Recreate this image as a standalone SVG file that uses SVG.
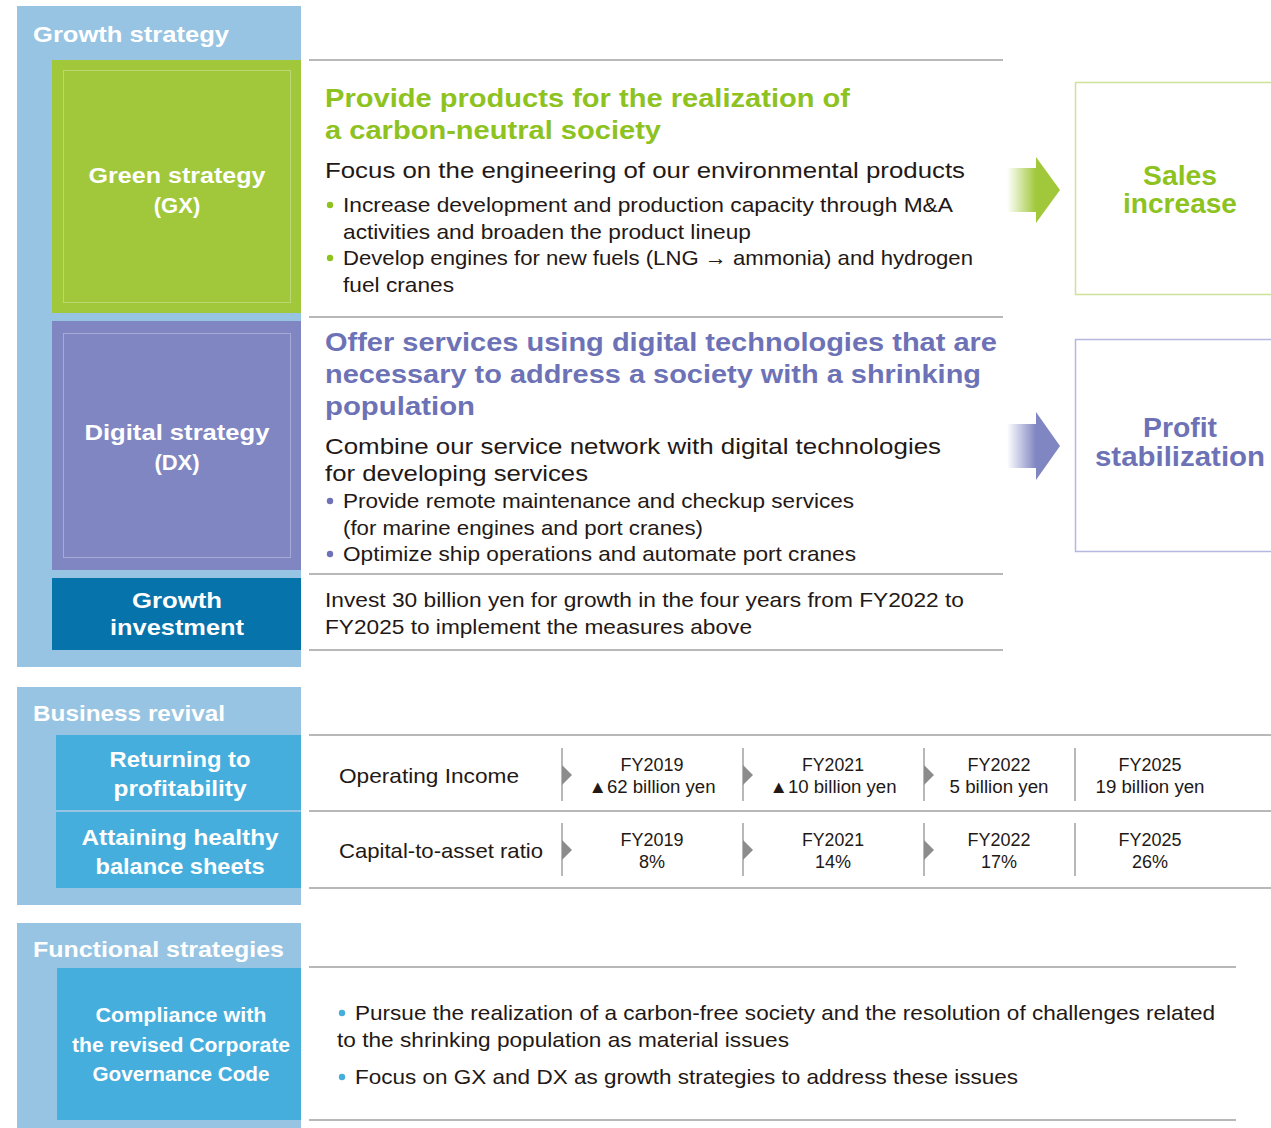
<svg xmlns="http://www.w3.org/2000/svg" width="1271" height="1128" viewBox="0 0 1271 1128">
<defs>
<style>
.lbl{font-family:"Liberation Sans",Arial,sans-serif;font-weight:bold;fill:#fff;}
.hd{font-family:"Liberation Sans",Arial,sans-serif;font-weight:bold;}
.tx{font-family:"Liberation Sans",Arial,sans-serif;fill:#231815;}
.sep{stroke:#a0a0a0;stroke-width:1.5;fill:none;}
.vdiv{stroke:#a0a0a0;stroke-width:1.5;}
.tri{fill:#8c8c8c;}
.inner{fill:none;stroke:#ffffff;stroke-opacity:0.3;stroke-width:1;}
</style>
<linearGradient id="gG" x1="1007" y1="0" x2="1036" y2="0" gradientUnits="userSpaceOnUse">
<stop offset="0" stop-color="#a0c83a" stop-opacity="0"/>
<stop offset="1" stop-color="#a0c83a" stop-opacity="1"/>
</linearGradient>
<linearGradient id="gP" x1="1007" y1="0" x2="1036" y2="0" gradientUnits="userSpaceOnUse">
<stop offset="0" stop-color="#8086c2" stop-opacity="0"/>
<stop offset="1" stop-color="#8086c2" stop-opacity="1"/>
</linearGradient>
</defs>
<rect width="1271" height="1128" fill="#ffffff"/>

<!-- Growth strategy panel -->
<g id="growth-strategy">
<rect x="17" y="6" width="284" height="661" fill="#97c4e2"/>
<text class="lbl" x="33" y="42" font-size="22" textLength="196" lengthAdjust="spacingAndGlyphs">Growth strategy</text>
</g>
<g id="green-strategy">
<rect x="52" y="60" width="249" height="253" fill="#a0c83a"/>
<rect class="inner" x="63.5" y="70.5" width="227" height="232"/>
<text class="lbl" x="177" y="183" font-size="22" text-anchor="middle" textLength="177" lengthAdjust="spacingAndGlyphs">Green strategy</text>
<text class="lbl" x="177" y="213" font-size="22" text-anchor="middle">(GX)</text>
</g>
<g id="digital-strategy">
<rect x="52" y="321" width="249" height="249" fill="#8086c2"/>
<rect class="inner" x="63.5" y="333.5" width="227" height="224"/>
<text class="lbl" x="177" y="440" font-size="22" text-anchor="middle" textLength="185" lengthAdjust="spacingAndGlyphs">Digital strategy</text>
<text class="lbl" x="177" y="470" font-size="22" text-anchor="middle">(DX)</text>
</g>
<g id="growth-investment">
<rect x="52" y="578" width="249" height="72" fill="#0773ab"/>
<text class="lbl" x="177" y="608" font-size="22" text-anchor="middle" textLength="90" lengthAdjust="spacingAndGlyphs">Growth</text>
<text class="lbl" x="177" y="635" font-size="22" text-anchor="middle" textLength="134" lengthAdjust="spacingAndGlyphs">investment</text>
</g>

<!-- GX content -->
<g id="gx-content">
<text class="hd" x="325" y="107" font-size="26" fill="#8dc21f" textLength="525" lengthAdjust="spacingAndGlyphs">Provide products for the realization of</text>
<text class="hd" x="325" y="139" font-size="26" fill="#8dc21f" textLength="336" lengthAdjust="spacingAndGlyphs">a carbon-neutral society</text>
<text class="tx" x="325" y="178" font-size="22" textLength="640" lengthAdjust="spacingAndGlyphs">Focus on the engineering of our environmental products</text>
<circle cx="330" cy="205" r="3.2" fill="#8dc21f"/>
<text class="tx" x="343" y="212" font-size="21" textLength="610" lengthAdjust="spacingAndGlyphs">Increase development and production capacity through M&amp;A</text>
<text class="tx" x="343" y="239" font-size="21" textLength="408" lengthAdjust="spacingAndGlyphs">activities and broaden the product lineup</text>
<circle cx="330" cy="258" r="3.2" fill="#8dc21f"/>
<text class="tx" x="343" y="265" font-size="21" textLength="630" lengthAdjust="spacingAndGlyphs">Develop engines for new fuels (LNG → ammonia) and hydrogen</text>
<text class="tx" x="343" y="292" font-size="21" textLength="111" lengthAdjust="spacingAndGlyphs">fuel cranes</text>
</g>

<!-- DX content -->
<g id="dx-content">
<text class="hd" x="325" y="351" font-size="26" fill="#6d72b6" textLength="672" lengthAdjust="spacingAndGlyphs">Offer services using digital technologies that are</text>
<text class="hd" x="325" y="383" font-size="26" fill="#6d72b6" textLength="656" lengthAdjust="spacingAndGlyphs">necessary to address a society with a shrinking</text>
<text class="hd" x="325" y="415" font-size="26" fill="#6d72b6" textLength="150" lengthAdjust="spacingAndGlyphs">population</text>
<text class="tx" x="325" y="454" font-size="22" textLength="616" lengthAdjust="spacingAndGlyphs">Combine our service network with digital technologies</text>
<text class="tx" x="325" y="481" font-size="22" textLength="263" lengthAdjust="spacingAndGlyphs">for developing services</text>
<circle cx="330" cy="501" r="3.2" fill="#6d72b6"/>
<text class="tx" x="343" y="508" font-size="21" textLength="511" lengthAdjust="spacingAndGlyphs">Provide remote maintenance and checkup services</text>
<text class="tx" x="343" y="535" font-size="21" textLength="360" lengthAdjust="spacingAndGlyphs">(for marine engines and port cranes)</text>
<circle cx="330" cy="554" r="3.2" fill="#6d72b6"/>
<text class="tx" x="343" y="561" font-size="21" textLength="513" lengthAdjust="spacingAndGlyphs">Optimize ship operations and automate port cranes</text>
</g>

<!-- Investment content -->
<g id="investment-content">
<text class="tx" x="325" y="607" font-size="21" textLength="639" lengthAdjust="spacingAndGlyphs">Invest 30 billion yen for growth in the four years from FY2022 to</text>
<text class="tx" x="325" y="634" font-size="21" textLength="427" lengthAdjust="spacingAndGlyphs">FY2025 to implement the measures above</text>
</g>

<!-- Outcome boxes -->
<g id="sales-increase">
<rect x="1075.5" y="82.5" width="200" height="212" fill="#ffffff" stroke="#cde39a" stroke-width="1.5"/>
<text class="hd" x="1180" y="185" font-size="27" fill="#8dc21f" text-anchor="middle" textLength="74" lengthAdjust="spacingAndGlyphs">Sales</text>
<text class="hd" x="1180" y="213" font-size="27" fill="#8dc21f" text-anchor="middle" textLength="114" lengthAdjust="spacingAndGlyphs">increase</text>
</g>
<g id="profit-stabilization">
<rect x="1075.5" y="339.5" width="200" height="212" fill="#ffffff" stroke="#b4b8de" stroke-width="1.5"/>
<text class="hd" x="1180" y="437" font-size="27" fill="#6d72b6" text-anchor="middle" textLength="74" lengthAdjust="spacingAndGlyphs">Profit</text>
<text class="hd" x="1180" y="466" font-size="27" fill="#6d72b6" text-anchor="middle" textLength="170" lengthAdjust="spacingAndGlyphs">stabilization</text>
</g>

<!-- Business revival panel -->
<g id="business-revival">
<rect x="17" y="687" width="284" height="218" fill="#97c4e2"/>
<text class="lbl" x="33" y="721" font-size="22" textLength="192" lengthAdjust="spacingAndGlyphs">Business revival</text>
</g>
<g id="returning-profitability">
<rect x="56" y="735" width="245" height="75" fill="#46aedd"/>
<text class="lbl" x="180" y="767" font-size="22" text-anchor="middle" textLength="141" lengthAdjust="spacingAndGlyphs">Returning to</text>
<text class="lbl" x="180" y="796" font-size="22" text-anchor="middle" textLength="133" lengthAdjust="spacingAndGlyphs">profitability</text>
</g>
<g id="healthy-balance">
<rect x="56" y="812" width="245" height="76" fill="#46aedd"/>
<text class="lbl" x="180" y="845" font-size="22" text-anchor="middle" textLength="197" lengthAdjust="spacingAndGlyphs">Attaining healthy</text>
<text class="lbl" x="180" y="874" font-size="22" text-anchor="middle" textLength="169" lengthAdjust="spacingAndGlyphs">balance sheets</text>
</g>

<!-- Table -->
<g id="kpi-table">
<text class="tx" x="339" y="783" font-size="21" textLength="180" lengthAdjust="spacingAndGlyphs">Operating Income</text>
<text class="tx" x="339" y="858" font-size="21" textLength="204" lengthAdjust="spacingAndGlyphs">Capital-to-asset ratio</text>
<g font-size="18" text-anchor="middle">
<text class="tx" x="652" y="771" textLength="63" lengthAdjust="spacingAndGlyphs">FY2019</text>
<text class="tx" x="652" y="793" textLength="127" lengthAdjust="spacingAndGlyphs">▲62 billion yen</text>
<text class="tx" x="833" y="771" textLength="62" lengthAdjust="spacingAndGlyphs">FY2021</text>
<text class="tx" x="833" y="793" textLength="127" lengthAdjust="spacingAndGlyphs">▲10 billion yen</text>
<text class="tx" x="999" y="771" textLength="63" lengthAdjust="spacingAndGlyphs">FY2022</text>
<text class="tx" x="999" y="793" textLength="99" lengthAdjust="spacingAndGlyphs">5 billion yen</text>
<text class="tx" x="1150" y="771" textLength="63" lengthAdjust="spacingAndGlyphs">FY2025</text>
<text class="tx" x="1150" y="793" textLength="109" lengthAdjust="spacingAndGlyphs">19 billion yen</text>
<text class="tx" x="652" y="846" textLength="63" lengthAdjust="spacingAndGlyphs">FY2019</text>
<text class="tx" x="652" y="868">8%</text>
<text class="tx" x="833" y="846" textLength="62" lengthAdjust="spacingAndGlyphs">FY2021</text>
<text class="tx" x="833" y="868">14%</text>
<text class="tx" x="999" y="846" textLength="63" lengthAdjust="spacingAndGlyphs">FY2022</text>
<text class="tx" x="999" y="868">17%</text>
<text class="tx" x="1150" y="846" textLength="63" lengthAdjust="spacingAndGlyphs">FY2025</text>
<text class="tx" x="1150" y="868">26%</text>
</g>
</g>

<!-- Functional strategies panel -->
<g id="functional-strategies">
<rect x="17" y="923" width="284" height="205" fill="#97c4e2"/>
<text class="lbl" x="33" y="957" font-size="22" textLength="251" lengthAdjust="spacingAndGlyphs">Functional strategies</text>
</g>
<g id="governance-code">
<rect x="57" y="968" width="244" height="152" fill="#46aedd"/>
<text class="lbl" x="181" y="1022" font-size="20" text-anchor="middle" textLength="171" lengthAdjust="spacingAndGlyphs">Compliance with</text>
<text class="lbl" x="181" y="1052" font-size="20" text-anchor="middle" textLength="218" lengthAdjust="spacingAndGlyphs">the revised Corporate</text>
<text class="lbl" x="181" y="1081" font-size="20" text-anchor="middle" textLength="177" lengthAdjust="spacingAndGlyphs">Governance Code</text>
</g>
<g id="functional-content">
<circle cx="342" cy="1013" r="3.2" fill="#46aedd"/>
<text class="tx" x="355" y="1020" font-size="21" textLength="860" lengthAdjust="spacingAndGlyphs">Pursue the realization of a carbon-free society and the resolution of challenges related</text>
<text class="tx" x="337" y="1047" font-size="21" textLength="452" lengthAdjust="spacingAndGlyphs">to the shrinking population as material issues</text>
<circle cx="342" cy="1077" r="3.2" fill="#46aedd"/>
<text class="tx" x="355" y="1084" font-size="21" textLength="663" lengthAdjust="spacingAndGlyphs">Focus on GX and DX as growth strategies to address these issues</text>
</g>

<!-- Connectors: separators, dividers, arrows -->
<g id="connectors">
<line class="sep" x1="309" y1="60" x2="1003" y2="60"/>
<line class="sep" x1="309" y1="317" x2="1003" y2="317"/>
<line class="sep" x1="309" y1="574" x2="1003" y2="574"/>
<line class="sep" x1="309" y1="650" x2="1003" y2="650"/>
<line class="sep" x1="309" y1="735" x2="1271" y2="735"/>
<line class="sep" x1="309" y1="811" x2="1271" y2="811"/>
<line class="sep" x1="309" y1="888" x2="1271" y2="888"/>
<line class="sep" x1="309" y1="967" x2="1236" y2="967"/>
<line class="sep" x1="309" y1="1120" x2="1236" y2="1120"/>
<line class="vdiv" x1="562" y1="748" x2="562" y2="801"/>
<line class="vdiv" x1="743" y1="748" x2="743" y2="801"/>
<line class="vdiv" x1="924" y1="748" x2="924" y2="801"/>
<line class="vdiv" x1="1075" y1="748" x2="1075" y2="801"/>
<line class="vdiv" x1="562" y1="823" x2="562" y2="876"/>
<line class="vdiv" x1="743" y1="823" x2="743" y2="876"/>
<line class="vdiv" x1="924" y1="823" x2="924" y2="876"/>
<line class="vdiv" x1="1075" y1="823" x2="1075" y2="876"/>
<polygon class="tri" points="562,765 572,775 562,785"/>
<polygon class="tri" points="743,765 753,775 743,785"/>
<polygon class="tri" points="924,765 934,775 924,785"/>
<polygon class="tri" points="562,840 572,850 562,860"/>
<polygon class="tri" points="743,840 753,850 743,860"/>
<polygon class="tri" points="924,840 934,850 924,860"/>
<polygon points="1007,168 1036,168 1036,157 1060,190 1036,223 1036,212 1007,212" fill="url(#gG)"/>
<polygon points="1007,424 1036,424 1036,412 1060,446 1036,480 1036,468 1007,468" fill="url(#gP)"/>
</g>
</svg>
